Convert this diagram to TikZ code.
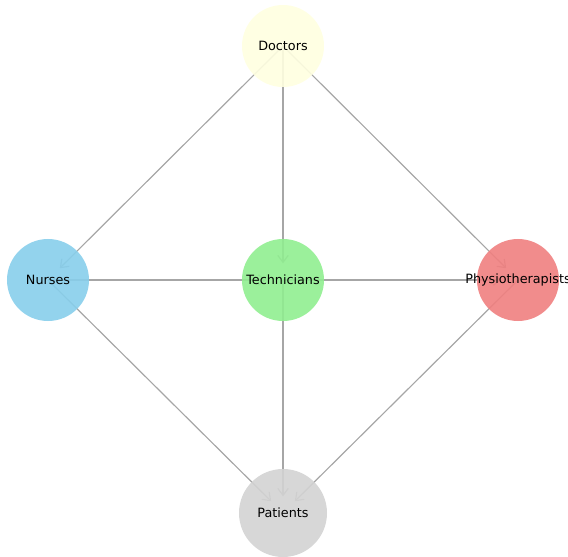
\documentclass[tikz,border=0pt]{standalone}
\usepackage{fontspec}
\setmainfont{DejaVu Sans}
\usetikzlibrary{arrows.meta,backgrounds}
\definecolor{docfill}{RGB}{255,255,224}
\definecolor{nurfill}{RGB}{135,206,235}
\definecolor{tecfill}{RGB}{144,238,144}
\definecolor{phyfill}{RGB}{240,128,128}
\definecolor{patfill}{RGB}{211,211,211}
\tikzset{
  role/.style={circle,minimum size=2.46cm,inner sep=0pt,fill opacity=0.9,text opacity=1,font=\fontsize{10.9}{13}\selectfont},
  link/.style={draw=gray!70,line width=1pt,-{Straight Barb[length=6pt,width=9pt]},shorten >=0.5cm}
}

\begin{document}
\begin{tikzpicture}[x=0.03cm,y=0.03cm]
  \useasboundingbox (0,0) rectangle (568,556);
  \node[role,fill=docfill] (doc) at (283,510) {Doctors};
  \node[role,fill=nurfill] (nur) at (48,276) {Nurses};
  \node[role,fill=tecfill] (tec) at (283,276) {Technicians};
  \node[role,fill=phyfill] (phy) at (518,276) {\makebox[0pt]{Physiotherapists}};
  \node[role,fill=patfill,minimum size=2.64cm] (pat) at (283,43) {Patients};
  \begin{scope}[on background layer]
    \draw[link] (doc.center)--(nur.center);
    \draw[link] (doc.center)--(tec.center);
    \draw[link] (doc.center)--(phy.center);
    \draw[link] (nur.center)--(tec.center);
    \draw[link] (tec.center)--(phy.center);
    \draw[link] (nur.center)--(pat.center);
    \draw[link] (tec.center)--(pat.center);
    \draw[link] (phy.center)--(pat.center);
  \end{scope}
\end{tikzpicture}
\end{document}
